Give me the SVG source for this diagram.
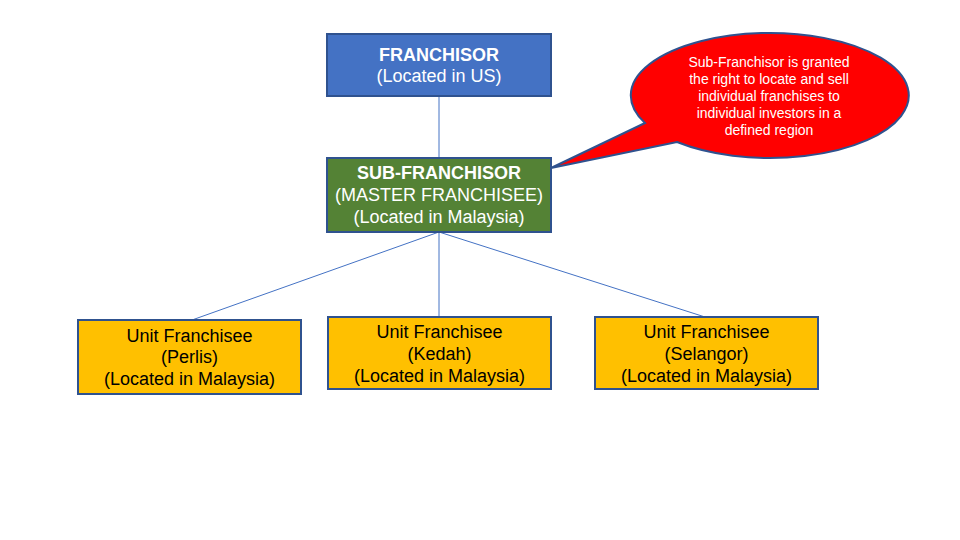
<svg xmlns="http://www.w3.org/2000/svg" width="960" height="540" viewBox="0 0 960 540">
<style>
.box{stroke:#2F528F;stroke-width:2}
.t{font-family:"Liberation Sans",Arial,sans-serif;font-size:18px;text-anchor:middle}
.w{fill:#FFFFFF}
.k{fill:#000000}
.b{font-weight:bold}
.conn line{stroke:#4472C4;stroke-width:1}
.c{font-family:"Liberation Sans",Arial,sans-serif;font-size:14px;text-anchor:middle;fill:#FFFFFF}
</style>
<rect width="960" height="540" fill="#FFFFFF"/>
<g id="connectors" class="conn">
<line x1="439" y1="96" x2="439" y2="158"/>
<line x1="439" y1="232" x2="192" y2="320"/>
<line x1="439" y1="232" x2="439" y2="317"/>
<line x1="439" y1="232" x2="705" y2="317"/>
</g>
<g id="franchisor">
<rect class="box" x="327" y="34" width="224" height="62" fill="#4472C4"/>
<text class="t w b" x="439" y="61">FRANCHISOR</text>
<text class="t w" x="439" y="82">(Located in US)</text>
</g>
<g id="sub-franchisor">
<rect class="box" x="327" y="158" width="224" height="74" fill="#548235"/>
<text class="t w b" x="439" y="179">SUB-FRANCHISOR</text>
<text class="t w" x="439" y="201">(MASTER FRANCHISEE)</text>
<text class="t w" x="439" y="223">(Located in Malaysia)</text>
</g>
<g id="callout">
<path d="M 645 123 L 551 168 L 677 142 A 139 62.5 0 1 0 645 123 Z" fill="#FF0000" stroke="#2F528F" stroke-width="2" stroke-linejoin="miter"/>
<text class="c" x="769" y="67">Sub-Franchisor is granted</text>
<text class="c" x="769" y="84">the right to locate and sell</text>
<text class="c" x="769" y="101">individual franchises to</text>
<text class="c" x="769" y="118">individual investors in a</text>
<text class="c" x="769" y="135">defined region</text>
</g>
<g id="unit-perlis">
<rect class="box" x="78" y="320" width="223" height="74" fill="#FFC000"/>
<text class="t k" x="189.5" y="342">Unit Franchisee</text>
<text class="t k" x="189.5" y="363">(Perlis)</text>
<text class="t k" x="189.5" y="385">(Located in Malaysia)</text>
</g>
<g id="unit-kedah">
<rect class="box" x="328" y="317" width="223" height="72" fill="#FFC000"/>
<text class="t k" x="439.5" y="338">Unit Franchisee</text>
<text class="t k" x="439.5" y="360">(Kedah)</text>
<text class="t k" x="439.5" y="382">(Located in Malaysia)</text>
</g>
<g id="unit-selangor">
<rect class="box" x="595" y="317" width="223" height="72" fill="#FFC000"/>
<text class="t k" x="706.5" y="338">Unit Franchisee</text>
<text class="t k" x="706.5" y="360">(Selangor)</text>
<text class="t k" x="706.5" y="382">(Located in Malaysia)</text>
</g>
</svg>
